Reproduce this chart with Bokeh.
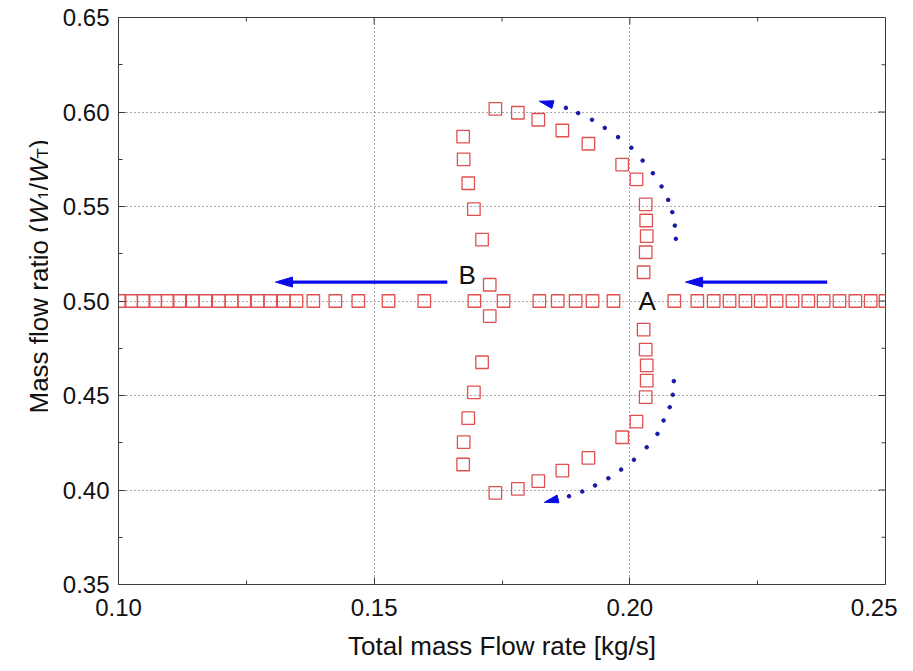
import math
from bokeh.plotting import figure
from bokeh.layouts import row
from bokeh.models import Range1d, FixedTicker, PrintfTickFormatter, Label
from bokeh.embed import file_html
from bokeh.resources import INLINE

# ---------------- data ----------------
x_ticks = [0.10, 0.15, 0.20, 0.25]
y_ticks = [0.35, 0.40, 0.45, 0.50, 0.55, 0.60, 0.65]

# points on the W1/WT = 0.50 line
row_x = [0.1002, 0.1025, 0.1049, 0.1072, 0.1096, 0.1119, 0.1145, 0.1170, 0.1196,
         0.1221, 0.1246, 0.1272, 0.1297, 0.1323, 0.1348, 0.1381, 0.1424, 0.1469,
         0.1528, 0.1598, 0.1696, 0.1753, 0.1823, 0.1859, 0.1894, 0.1927, 0.1968,
         0.2087, 0.2132, 0.2164, 0.2195, 0.2226, 0.2256, 0.2287, 0.2318, 0.2349,
         0.2379, 0.2410, 0.2441, 0.2471, 0.2500]
row_y = [0.50] * len(row_x)

# loop of points (upper and lower branches)
loop_x = [0.2027, 0.2031, 0.2033, 0.2032, 0.2031,
          0.2013, 0.1985, 0.1919, 0.1868, 0.1821, 0.1781, 0.1737,
          0.1674, 0.1675, 0.1684, 0.1695, 0.1711, 0.1726,
          0.1726, 0.1711, 0.1695, 0.1684, 0.1675, 0.1674,
          0.1737, 0.1781, 0.1821, 0.1868, 0.1919, 0.1985, 0.2013,
          0.2031, 0.2033, 0.2033, 0.2031, 0.2027]
loop_y = [0.5152, 0.5258, 0.5343, 0.5426, 0.5511,
          0.5643, 0.5722, 0.5832, 0.5902, 0.5959, 0.5996, 0.6017,
          0.5870, 0.5749, 0.5623, 0.5486, 0.5325, 0.5086,
          0.4920, 0.4676, 0.4517, 0.4380, 0.4253, 0.4135,
          0.3985, 0.4006, 0.4047, 0.4103, 0.4170, 0.4279, 0.4362,
          0.4491, 0.4579, 0.4659, 0.4743, 0.4849]

# annotation arrows
arrow_y = 0.510
arrow1_x = [0.2386, 0.2109]   # tail, tip
arrow2_x = [0.1643, 0.1307]
top_dots_x = [0.2090, 0.2088, 0.2083, 0.2075, 0.2062, 0.2045, 0.2025, 0.2003,
              0.1977, 0.1951, 0.1926, 0.1899, 0.1875]
top_dots_y = [0.5329, 0.5399, 0.5470, 0.5535, 0.5606, 0.5676, 0.5743, 0.5811,
              0.5867, 0.5916, 0.5959, 0.5994, 0.6022]
top_tip = (0.1823, 0.6057)
bot_dots_x = [0.2086, 0.2084, 0.2078, 0.2066, 0.2054, 0.2033, 0.2008, 0.1983,
              0.1958, 0.1932, 0.1907, 0.1881]
bot_dots_y = [0.4576, 0.4504, 0.4438, 0.4368, 0.4297, 0.4226, 0.4160, 0.4108,
              0.4062, 0.4024, 0.3992, 0.3967]
bot_tip = (0.1833, 0.3935)
label_A = (0.2034, 0.500)
label_B = (0.1682, 0.5135)

# ---------------- layout ----------------
H = 663
LW = 48                      # width of the strip holding the y title
W = 897 - LW
BL, BR, BT, BB = 118 - LW, 12, 17, 79
FH = H - BT - BB             # frame height (shared by both plots in the row)
X0, X1 = 0.10, 0.25
Y0, Y1 = 0.35, 0.65
SX = (W - BL - BR) / (X1 - X0)
SY = FH / (Y1 - Y0)

FONT = "Liberation Sans"
AX_COLOR = "#3c3c3c"
TXT = "#111111"
RED = "#E05050"
BLUE = "#0a0ae8"
DOT_BLUE = "#1818a8"

p = figure(width=W, height=H, x_range=Range1d(X0, X1), y_range=Range1d(Y0, Y1),
           output_backend="svg", toolbar_location=None,
           min_border_left=BL, min_border_right=BR, min_border_top=BT,
           min_border_bottom=BB)
p.background_fill_color = "white"
p.border_fill_color = "white"
p.outline_line_color = AX_COLOR
p.outline_line_width = 1

x_minor = [(a + b) / 2 for a, b in zip(x_ticks[:-1], x_ticks[1:])]
y_minor = [(a + b) / 2 for a, b in zip(y_ticks[:-1], y_ticks[1:])]
xt = FixedTicker(ticks=x_ticks, minor_ticks=x_minor)
yt = FixedTicker(ticks=y_ticks, minor_ticks=y_minor)

MAJ, MIN = 7, 4
for ax, t in ((p.xaxis[0], xt), (p.yaxis[0], yt)):
    ax.ticker = t
    ax.formatter = PrintfTickFormatter(format="%.2f")
    ax.axis_line_color = AX_COLOR
    ax.major_tick_line_color = AX_COLOR
    ax.minor_tick_line_color = AX_COLOR
    ax.major_tick_in = MAJ
    ax.major_tick_out = 0
    ax.minor_tick_in = MIN
    ax.minor_tick_out = 0
    ax.major_label_text_font = FONT
    ax.major_label_text_font_size = "24px"
    ax.major_label_text_color = TXT
p.xaxis[0].major_label_standoff = 14
p.yaxis[0].major_label_standoff = 9

p.xaxis[0].axis_label = "Total mass Flow rate [kg/s]"
p.xaxis[0].axis_label_text_font = FONT
p.xaxis[0].axis_label_text_font_size = "26px"
p.xaxis[0].axis_label_text_font_style = "normal"
p.xaxis[0].axis_label_text_color = TXT
p.xaxis[0].axis_label_standoff = 12

# mirrored ticks on the top and right frame edges
tx_major = x_ticks[1:-1]
ty_major = y_ticks[1:-1]
p.segment(x0=tx_major, y0=[Y1] * len(tx_major), x1=tx_major,
          y1=[Y1 - MAJ / SY] * len(tx_major), line_color=AX_COLOR, line_width=1)
p.segment(x0=x_minor, y0=[Y1] * len(x_minor), x1=x_minor,
          y1=[Y1 - MIN / SY] * len(x_minor), line_color=AX_COLOR, line_width=1)
p.segment(x0=[X1] * len(ty_major), y0=ty_major, x1=[X1 - MAJ / SX] * len(ty_major),
          y1=ty_major, line_color=AX_COLOR, line_width=1)
p.segment(x0=[X1] * len(y_minor), y0=y_minor, x1=[X1 - MIN / SX] * len(y_minor),
          y1=y_minor, line_color=AX_COLOR, line_width=1)

for g, t in ((p.xgrid[0], xt), (p.ygrid[0], yt)):
    g.ticker = t
    g.grid_line_color = "#555555"
    g.grid_line_dash = "1 3"
    g.grid_line_width = 1

# ---------------- data markers ----------------
p.scatter(row_x, row_y, marker="square", size=12.5, line_color=RED,
          fill_color=None, line_width=1.3)
p.scatter(loop_x, loop_y, marker="square", size=12.5, line_color=RED,
          fill_color=None, line_width=1.3)

# ---------------- arrows ----------------
def head(tip, frm, length, width):
    dx = (tip[0] - frm[0]) * SX
    dy = (tip[1] - frm[1]) * SY
    n = math.hypot(dx, dy)
    ux, uy = dx / n, dy / n
    bx, by = -ux * length, -uy * length
    px_, py_ = -uy * width / 2, ux * width / 2
    xs = [tip[0], tip[0] + (bx + px_) / SX, tip[0] + (bx - px_) / SX]
    ys = [tip[1], tip[1] + (by + py_) / SY, tip[1] + (by - py_) / SY]
    return xs, ys

for ax_ in (arrow1_x, arrow2_x):
    tip = (ax_[1], arrow_y)
    hx, hy = head(tip, (ax_[0], arrow_y), 17, 10)
    p.line([ax_[0], ax_[1] + 12 / SX], [arrow_y, arrow_y], line_color=BLUE, line_width=3.2)
    p.patch(hx, hy, fill_color=BLUE, line_color=BLUE, line_width=1)

p.scatter(top_dots_x, top_dots_y, marker="circle", size=3.6, color=DOT_BLUE)
p.scatter(bot_dots_x, bot_dots_y, marker="circle", size=3.6, color=DOT_BLUE)
for tip, dx_, dy_ in ((top_tip, top_dots_x, top_dots_y), (bot_tip, bot_dots_x, bot_dots_y)):
    hx, hy = head(tip, (dx_[-1], dy_[-1]), 14, 8)
    p.patch(hx, hy, fill_color=BLUE, line_color=BLUE, line_width=1)

# ---------------- text labels A / B ----------------
for (lx, ly), t in ((label_A, "A"), (label_B, "B")):
    p.add_layout(Label(x=lx, y=ly, text=t, text_font=FONT, text_font_size="26px",
                       text_align="center", text_baseline="middle", text_color=TXT))

# ---------------- y-axis title strip (italic W, subscripts) ----------------
# The row aligns this strip's frame with the main frame (rows BT .. BT+FH), so the
# y range is set such that one unit equals one pixel measured from the page top.
ylab = figure(width=LW, height=H, x_range=Range1d(0, LW), y_range=Range1d(BT + FH, BT),
              output_backend="svg", toolbar_location=None,
              x_axis_type=None, y_axis_type=None,
              min_border_left=0, min_border_right=0, min_border_top=BT,
              min_border_bottom=BB)
ylab.grid.visible = False
ylab.outline_line_color = None
ylab.background_fill_color = "white"
ylab.border_fill_color = "white"

MAIN, SUB = 26, 17
pieces = [("Mass flow ratio (", MAIN, "normal", 7.279, 0),
          ("W", MAIN, "italic", 0.944, 0),
          ("1", SUB, "normal", 0.556, 5),
          ("/", MAIN, "normal", 0.278, 0),
          ("W", MAIN, "italic", 0.944, 0),
          ("T", SUB, "normal", 0.611, 5),
          (")", MAIN, "normal", 0.333, 0)]
py_cursor = 413.0
base_px = 38.0
for text, fs, style, em, shift in pieces:
    ylab.add_layout(Label(x=base_px + shift, y=py_cursor, text=text, angle=math.pi / 2,
                          text_font=FONT, text_font_size=f"{fs}px", text_font_style=style,
                          text_align="left", text_baseline="alphabetic",
                          text_color=TXT))
    py_cursor -= em * fs

layout = row(ylab, p, spacing=0)
open("out.html", "w").write(file_html(layout, INLINE))
